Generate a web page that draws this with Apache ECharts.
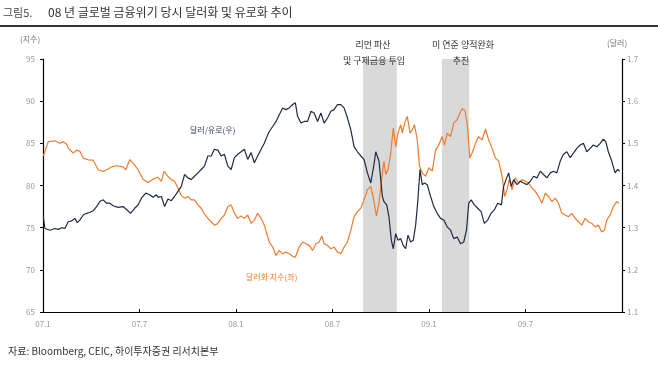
<!DOCTYPE html>
<html><head><meta charset="utf-8">
<script src="https://cdn.jsdelivr.net/npm/echarts@6/dist/echarts.min.js"></script>
<style>html,body{margin:0;padding:0;background:#fff}#c{width:658px;height:368px}</style>
</head><body><div id="c"></div>
<script>
// x = months since 2007-01-01
const xTickLabels = ['07.1','07.7','08.1','08.7','09.1','09.7',''];
const leftTicks = [65,70,75,80,85,90,95];
const rightTicks = [1.1,1.2,1.3,1.4,1.5,1.6,1.7];
const bands = [[19.9, 22.0], [24.8, 26.5]];

const dxyMonth = [0.02,0.33,0.43,0.74,1.05,1.26,1.47,1.57,1.88,2.09,2.29,2.50,2.81,3.12,3.43,3.74,3.95,4.26,4.57,4.98,5.15,5.39,5.60,5.91,6.22,6.53,6.84,6.94,7.15,7.36,7.52,7.77,7.98,8.18,8.39,8.60,8.80,9.01,9.22,9.42,9.63,9.84,10.04,10.25,10.46,10.66,10.87,11.08,11.28,11.49,11.70,11.90,12.11,12.32,12.52,12.73,12.94,13.14,13.35,13.56,13.76,13.97,14.07,14.28,14.49,14.69,14.90,15.11,15.31,15.52,15.69,15.93,16.14,16.35,16.55,16.76,16.97,17.17,17.34,17.48,17.69,17.90,18.10,18.31,18.52,18.72,18.93,19.14,19.34,19.55,19.76,19.96,20.17,20.38,20.52,20.73,20.89,21.10,21.20,21.31,21.45,21.62,21.78,21.93,22.07,22.24,22.34,22.48,22.65,22.82,22.96,23.10,23.27,23.41,23.58,23.79,23.99,24.20,24.41,24.61,24.82,24.96,25.13,25.34,25.54,25.75,25.92,26.06,26.23,26.37,26.54,26.68,26.89,27.09,27.30,27.51,27.71,27.92,28.13,28.33,28.54,28.71,28.85,28.99,29.16,29.37,29.57,29.78,29.99,30.19,30.40,30.61,30.81,31.02,31.23,31.43,31.64,31.85,32.05,32.26,32.47,32.67,32.88,33.09,33.29,33.50,33.71,33.91,34.12,34.33,34.53,34.74,34.91,35.05,35.26,35.46,35.67,35.81];
const dxyValue = [83.5,85.2,85.0,85.3,85.0,85.2,84.9,84.4,83.85,84.2,84.05,83.25,83.05,83.0,81.87,81.67,81.87,82.2,82.34,82.2,81.87,83.05,82.66,81.87,80.75,80.36,80.75,80.6,81.0,80.5,81.67,81.07,80.7,80.5,79.7,78.8,78.5,78.7,78.3,78.3,77.7,77.3,76.6,76.1,75.7,75.3,75.5,76.1,76.5,77.5,77.7,76.7,76.1,76.4,76.1,76.5,75.5,75.9,76.7,76.1,75.3,73.9,73.3,72.7,71.7,72.3,71.9,72.1,71.9,71.6,71.5,72.7,73.3,73.1,72.9,72.3,73.1,73.3,74.0,73.1,72.9,72.5,72.7,72.1,71.9,72.7,73.3,74.7,76.3,76.9,77.3,78.3,79.5,79.9,78.7,76.4,77.9,81.5,82.9,81.3,81.9,83.85,86.8,84.6,86.2,87.2,86.2,87.4,88.2,86.2,86.6,87.2,85.4,82.3,81.5,81.1,82.1,81.7,84.2,84.8,85.8,84.8,86.2,85.8,87.4,87.8,88.6,89.1,88.9,87.4,83.25,83.85,85.0,85.8,85.4,86.7,85.4,84.4,83.25,82.9,81.1,78.7,79.5,80.7,79.5,80.9,80.3,80.7,80.5,80.3,79.7,79.3,78.7,77.9,79.1,78.7,78.1,78.5,77.9,76.7,76.5,76.3,76.7,76.1,75.7,75.3,76.1,75.7,75.5,75.1,75.3,74.5,74.7,75.9,76.5,77.5,78.1,77.9];

const eurMonth = [0.02,0.12,0.23,0.43,0.74,0.95,1.16,1.36,1.57,1.78,1.98,2.13,2.29,2.50,2.71,2.91,3.12,3.33,3.53,3.74,3.95,4.15,4.36,4.67,4.98,5.23,5.44,5.70,5.91,6.12,6.39,6.63,6.84,7.05,7.15,7.36,7.56,7.77,7.98,8.18,8.39,8.60,8.80,9.01,9.22,9.42,9.63,9.84,10.04,10.25,10.46,10.66,10.87,11.08,11.28,11.49,11.70,11.90,12.11,12.32,12.52,12.73,12.94,13.14,13.35,13.56,13.76,13.97,14.07,14.28,14.49,14.69,14.90,15.11,15.31,15.52,15.69,15.83,16.04,16.24,16.45,16.66,16.86,17.07,17.28,17.48,17.69,17.90,18.10,18.31,18.52,18.72,18.93,19.14,19.34,19.55,19.76,19.96,20.17,20.38,20.58,20.69,20.89,21.10,21.20,21.37,21.51,21.66,21.78,21.93,22.07,22.24,22.40,22.55,22.69,22.86,23.02,23.17,23.31,23.44,23.58,23.72,23.89,24.10,24.30,24.51,24.72,24.92,25.13,25.34,25.54,25.75,25.96,26.16,26.33,26.47,26.62,26.82,27.03,27.24,27.44,27.65,27.86,28.06,28.27,28.33,28.50,28.64,28.79,28.95,29.12,29.26,29.47,29.68,29.88,30.09,30.30,30.50,30.71,30.92,31.12,31.33,31.54,31.74,31.95,32.16,32.36,32.57,32.78,32.98,33.19,33.40,33.60,33.81,34.02,34.22,34.43,34.64,34.84,34.99,35.15,35.36,35.57,35.73,35.86];
const eurValue = [1.326,1.298,1.296,1.294,1.298,1.296,1.300,1.298,1.314,1.316,1.322,1.312,1.318,1.330,1.334,1.336,1.340,1.350,1.362,1.366,1.358,1.358,1.352,1.348,1.350,1.342,1.334,1.346,1.354,1.370,1.382,1.378,1.372,1.378,1.372,1.374,1.350,1.368,1.364,1.374,1.386,1.398,1.426,1.418,1.414,1.422,1.430,1.438,1.446,1.470,1.470,1.486,1.484,1.470,1.474,1.446,1.438,1.466,1.474,1.480,1.486,1.462,1.478,1.454,1.470,1.486,1.500,1.520,1.528,1.540,1.552,1.568,1.584,1.580,1.584,1.592,1.596,1.564,1.548,1.552,1.552,1.576,1.572,1.552,1.572,1.548,1.560,1.576,1.580,1.592,1.592,1.584,1.560,1.532,1.492,1.480,1.470,1.462,1.430,1.406,1.450,1.480,1.458,1.374,1.362,1.354,1.326,1.270,1.250,1.286,1.270,1.274,1.258,1.250,1.282,1.266,1.270,1.306,1.366,1.438,1.402,1.406,1.402,1.374,1.350,1.334,1.322,1.318,1.302,1.294,1.274,1.278,1.262,1.266,1.294,1.358,1.366,1.354,1.346,1.338,1.310,1.318,1.334,1.342,1.358,1.362,1.354,1.398,1.414,1.430,1.398,1.414,1.402,1.410,1.406,1.402,1.410,1.422,1.418,1.434,1.426,1.418,1.430,1.434,1.430,1.458,1.474,1.480,1.466,1.477,1.488,1.496,1.500,1.480,1.488,1.496,1.492,1.500,1.510,1.504,1.480,1.458,1.430,1.438,1.434];

const FONT = "'Noto Sans CJK KR', 'Noto Sans', sans-serif";
const ORANGE = '#ED7D31', NAVY = '#1F2A44';
const chart = echarts.init(document.getElementById('c'), null, {renderer: 'canvas'});
chart.setOption({
  animation: false,
  textStyle: {fontFamily: FONT},
  grid: {left: 43, right: 36, top: 59, bottom: 56},
  xAxis: {
    type: 'value', min: 0, max: 36, interval: 6,
    axisLine: {lineStyle: {color: '#000', width: 1.2}},
    axisTick: {inside: true, length: 3, lineStyle: {color: '#000'}},
    splitLine: {show: false},
    axisLabel: {color: '#999', fontSize: 8, margin: 8, fontFamily: FONT,
      formatter: v => xTickLabels[Math.round(v / 6)] || ''}
  },
  yAxis: [
    {type: 'value', min: leftTicks[0], max: leftTicks[leftTicks.length - 1], interval: 5,
     axisLine: {show: true, lineStyle: {color: '#000', width: 1.2}},
     axisTick: {show: true, length: 3, lineStyle: {color: '#000'}},
     splitLine: {show: false},
     axisLabel: {color: '#999', fontSize: 8, margin: 8, fontFamily: FONT}},
    {type: 'value', min: rightTicks[0], max: rightTicks[rightTicks.length - 1], interval: 0.1,
     position: 'right',
     axisLine: {show: true, lineStyle: {color: '#000', width: 1.2}},
     axisTick: {show: true, length: 3, lineStyle: {color: '#000'}},
     splitLine: {show: false},
     axisLabel: {color: '#999', fontSize: 8, margin: 5, fontFamily: FONT,
       formatter: v => v.toFixed(1)}}
  ],
  series: [
    {type: 'line', data: [], z: 1, silent: true,
     markArea: {silent: true, itemStyle: {color: '#D9D9D9'},
       data: bands.map(b => [{xAxis: b[0]}, {xAxis: b[1]}])}},
    {name: '달러화 지수(좌)', type: 'line', yAxisIndex: 0, z: 3, showSymbol: false,
     lineStyle: {color: ORANGE, width: 1.2}, itemStyle: {color: ORANGE},
     data: dxyMonth.map((m, i) => [m, dxyValue[i]])},
    {name: '달러/유로(우)', type: 'line', yAxisIndex: 1, z: 4, showSymbol: false,
     lineStyle: {color: NAVY, width: 1.2}, itemStyle: {color: NAVY},
     data: eurMonth.map((m, i) => [m, eurValue[i]])}
  ],
  graphic: [
    {type: 'text', left: 3, top: 7, style: {text: '그림5.', font: '11px ' + FONT, fill: '#444'}},
    {type: 'text', left: 48, top: 6, style: {text: '08 년 글로벌 금융위기 당시 달러화 및 유로화 추이', font: '12px ' + FONT, fill: '#333'}},
    {type: 'rect', left: 0, top: 25, shape: {width: 658, height: 2}, style: {fill: '#333'}},
    {type: 'text', left: 20, top: 35, style: {text: '(지수)', font: '8px ' + FONT, fill: '#777'}},
    {type: 'text', left: 607, top: 39, style: {text: '(달러)', font: '8px ' + FONT, fill: '#777'}},
    {type: 'text', x: 373, y: 45, style: {text: '리먼 파산', font: '9px ' + FONT, fill: '#333', align: 'center', verticalAlign: 'middle'}},
    {type: 'text', x: 374, y: 61, z: 10, style: {text: '및 구제금융 투입', font: '9px ' + FONT, fill: '#333', align: 'center', verticalAlign: 'middle'}},
    {type: 'text', x: 463, y: 45, style: {text: '미 연준 양적완화', font: '9px ' + FONT, fill: '#333', align: 'center', verticalAlign: 'middle'}},
    {type: 'text', x: 461, y: 61, z: 10, style: {text: '추진', font: '9px ' + FONT, fill: '#333', align: 'center', verticalAlign: 'middle'}},
    {type: 'text', x: 190, y: 130, style: {text: '달러/유로(우)', font: '8px ' + FONT, fill: '#333B55', verticalAlign: 'middle'}},
    {type: 'text', x: 246, y: 277, style: {text: '달러화 지수(좌)', font: '8px ' + FONT, fill: ORANGE, verticalAlign: 'middle'}},
    {type: 'text', left: 8, top: 346, style: {text: '자료: Bloomberg, CEIC, 하이투자증권 리서치본부', font: '10px ' + FONT, fill: '#333'}}
  ]
});
</script></body></html>
